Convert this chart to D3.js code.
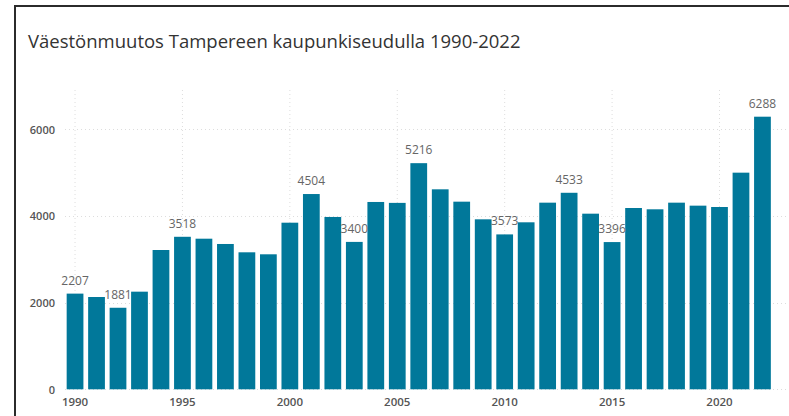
<!DOCTYPE html>
<html>
<head>
<meta charset="utf-8">
<script src="https://cdn.jsdelivr.net/npm/d3@7"></script>
<style>
  body { margin: 0; background: #fff; }
  text { font-family: "Open Sans", "Noto Sans", sans-serif; }
</style>
</head>
<body>
<div id="chart"></div>
<script>
// Data
var years      = d3.range(1990, 2023);
var values     = [2207, 2129, 1881, 2252, 3213, 3518, 3474, 3352, 3160, 3114,
                  3843, 4504, 3975, 3400, 4321, 4300, 5216, 4613, 4328, 3921,
                  3573, 3852, 4305, 4533, 4051, 3396, 4182, 4152, 4305, 4236,
                  4205, 4997, 6288];
var labelYears = [1990, 1992, 1995, 2001, 2003, 2006, 2010, 2013, 2015, 2022];
var xTicks     = [1990, 1995, 2000, 2005, 2010, 2015, 2020];
var yTicks     = [0, 2000, 4000, 6000];
var title      = "Väestönmuutos Tampereen kaupunkiseudulla 1990-2022";

var chart_width  = 789;
var chart_height = 416;
var barColor     = "#01789a";

var data = years.map(function(y, i) { return { year: y, value: values[i] }; });

var svg = d3.select("#chart")
    .append("svg")
    .attr("width", chart_width)
    .attr("height", chart_height);

// frame
svg.append("path")
    .attr("d", "M15," + chart_height + "V6H" + chart_width)
    .attr("fill", "none")
    .attr("stroke", "#2b2b2b")
    .attr("stroke-width", 2);

svg.append("text")
    .attr("x", 28)
    .attr("y", 48)
    .style("font-size", "18.5px")
    .style("fill", "#333")
    .text(title);

// scales
var x = d3.scaleBand()
    .domain(years)
    .range([64.3, 773.2])
    .paddingInner(0.22)
    .paddingOuter(0.11);

var y = d3.scaleLinear()
    .domain([0, 6288])
    .range([389.3, 116.7]);

// grid
svg.append("g")
    .selectAll("line")
    .data(xTicks)
    .enter()
    .append("line")
    .attr("x1", d => x(d) + x.bandwidth() / 2)
    .attr("x2", d => x(d) + x.bandwidth() / 2)
    .attr("y1", 90)
    .attr("y2", y(0))
    .style("stroke", "#ddd")
    .style("stroke-dasharray", "1,3");

svg.append("g")
    .selectAll("line")
    .data(yTicks)
    .enter()
    .append("line")
    .attr("x1", 65)
    .attr("x2", chart_width)
    .attr("y1", d => Math.round(y(d)) + 0.5)
    .attr("y2", d => Math.round(y(d)) + 0.5)
    .style("stroke", "#ddd")
    .style("stroke-dasharray", "1,3");

// axes
var yAxis = svg.append("g")
    .attr("transform", "translate(55,0)")
    .call(d3.axisLeft(y).tickValues(yTicks).tickSize(0).tickPadding(0).tickFormat(d3.format("d")));
yAxis.select(".domain").remove();
yAxis.selectAll("text")
    .style("font-size", "11px")
    .style("font-weight", 600)
    .style("fill", "#555")
    .attr("dy", "0.35em");

var xAxis = svg.append("g")
    .attr("transform", "translate(0," + y(0) + ")")
    .call(d3.axisBottom(x).tickValues(xTicks).tickSize(0).tickPadding(9));
xAxis.select(".domain").remove();
xAxis.selectAll("text")
    .style("font-size", "11.5px")
    .style("font-weight", 600)
    .style("fill", "#555");

// bars
svg.selectAll("rect.bar")
    .data(data)
    .enter()
    .append("rect")
    .attr("class", "bar")
    .attr("x", d => x(d.year))
    .attr("y", d => y(d.value))
    .attr("width", x.bandwidth())
    .attr("height", d => y(0) - y(d.value))
    .style("fill", barColor);

// labels
svg.selectAll("text.lbl")
    .data(data.filter(d => labelYears.indexOf(d.year) >= 0))
    .enter()
    .append("text")
    .attr("class", "lbl")
    .attr("x", d => x(d.year) + x.bandwidth() / 2)
    .attr("y", d => y(d.value) - 9)
    .attr("text-anchor", "middle")
    .style("font-size", "12px")
    .style("fill", "#666")
    .text(d => d.value);
</script>
</body>
</html>
